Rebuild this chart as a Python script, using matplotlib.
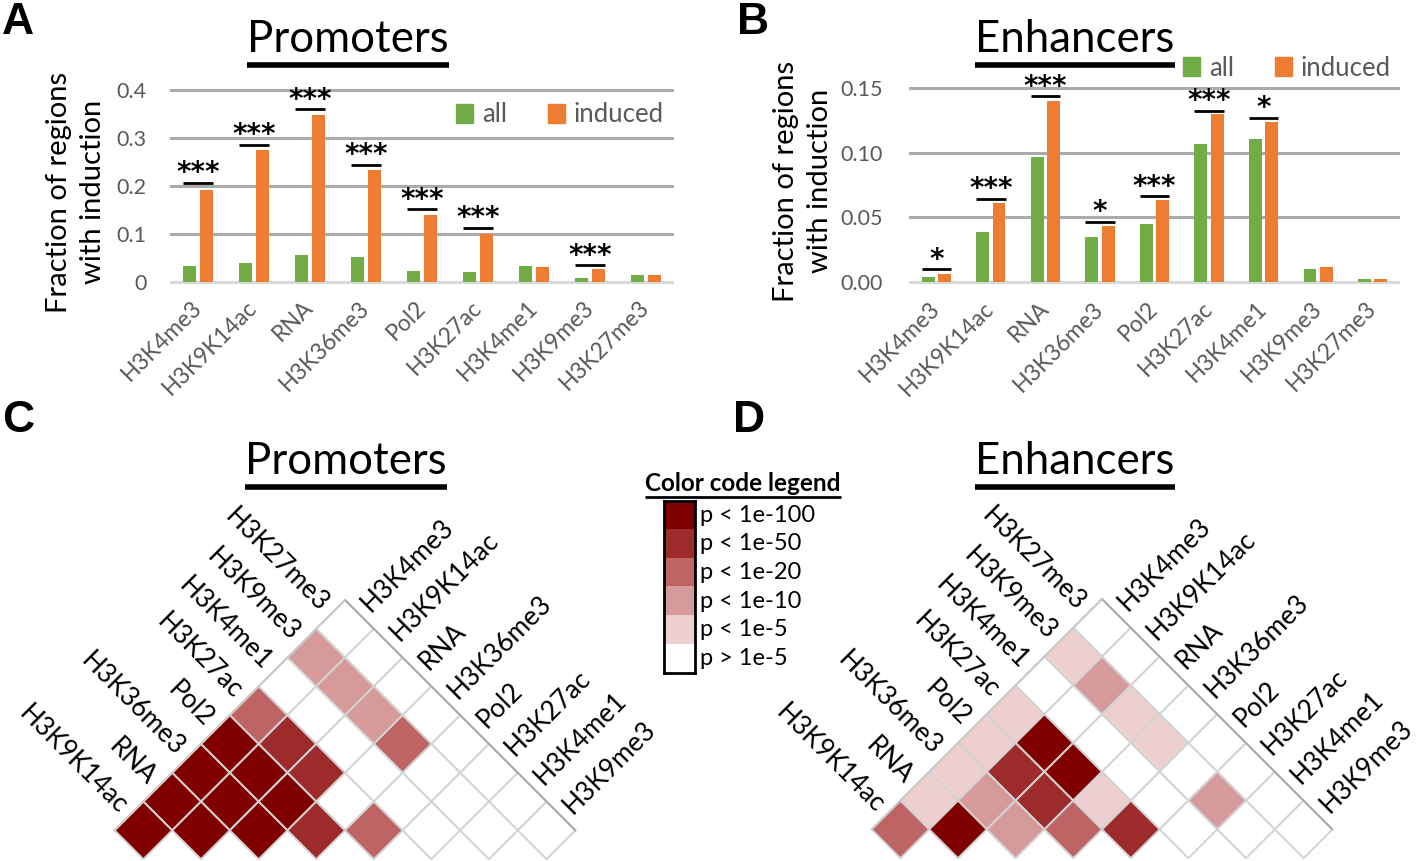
import numpy as np
import matplotlib
matplotlib.use('Agg')
import matplotlib.pyplot as plt
from matplotlib.colors import ListedColormap, BoundaryNorm
from matplotlib.patches import Patch
from matplotlib.lines import Line2D

plt.rcParams['font.family'] = ['Lato', 'DejaVu Sans']

# ---------------- data ----------------
categories = ['H3K4me3', 'H3K9K14ac', 'RNA', 'H3K36me3', 'Pol2', 'H3K27ac',
              'H3K4me1', 'H3K9me3', 'H3K27me3']

prom_all = [0.033, 0.040, 0.057, 0.053, 0.022, 0.021, 0.033, 0.008, 0.014]
prom_induced = [0.191, 0.276, 0.347, 0.233, 0.139, 0.100, 0.031, 0.028, 0.014]
prom_stars = ['***', '***', '***', '***', '***', '***', '', '***', '']
prom_sig = [0.207, 0.286, 0.360, 0.244, 0.152, 0.113, None, 0.035, None]
prom_yticks = [0, 0.1, 0.2, 0.3, 0.4]
prom_yticklabels = ['0', '0.1', '0.2', '0.3', '0.4']

enh_all = [0.0036, 0.039, 0.0966, 0.035, 0.045, 0.107, 0.1106, 0.0104, 0.002]
enh_induced = [0.0065, 0.061, 0.140, 0.043, 0.0637, 0.130, 0.124, 0.0114, 0.0026]
enh_stars = ['*', '***', '***', '*', '***', '***', '*', '', '']
enh_sig = [0.0098, 0.0645, 0.1438, 0.0466, 0.0663, 0.1324, 0.127, None, None]
enh_yticks = [0, 0.05, 0.10, 0.15]
enh_yticklabels = ['0.00', '0.05', '0.10', '0.15']

# heatmap: rows = left labels (top to bottom), columns = right labels
left_labels = ['H3K27me3', 'H3K9me3', 'H3K4me1', 'H3K27ac', 'Pol2',
               'H3K36me3', 'RNA', 'H3K9K14ac']
right_labels = ['H3K4me3', 'H3K9K14ac', 'RNA', 'H3K36me3', 'Pol2',
                'H3K27ac', 'H3K4me1', 'H3K9me3']
# significance level codes: 0 p>1e-5, 1 p<1e-5, 2 p<1e-10, 3 p<1e-20, 4 p<1e-50, 5 p<1e-100
prom_levels = [
    [0, 0, 0, 0, 0, 0, 0, 0],
    [2, 2, 2, 3, 0, 0, 0],
    [0, 0, 0, 0, 0, 0],
    [3, 4, 4, 0, 3],
    [5, 5, 5, 4],
    [5, 5, 5],
    [5, 5],
    [5],
]
enh_levels = [
    [0, 0, 0, 0, 0, 0, 0, 0],
    [1, 2, 1, 1, 0, 2, 0],
    [0, 0, 0, 0, 0, 0],
    [1, 5, 5, 1, 4],
    [1, 4, 4, 3],
    [1, 2, 2],
    [1, 5],
    [3],
]
legend_labels = ['p < 1e-100', 'p < 1e-50', 'p < 1e-20', 'p < 1e-10', 'p < 1e-5', 'p > 1e-5']

# ---------------- style ----------------
GREEN = '#70AD47'
ORANGE = '#ED7D31'
GRAY_TXT = '#595959'
GRID = '#ABABAB'
heat_colors = ['#FFFFFF', '#EDCFCF', '#D69A9A', '#BE6464', '#9E2B2B', '#800000']
cmap = ListedColormap(heat_colors)
norm = BoundaryNorm(np.arange(-0.5, 6.5, 1), cmap.N)

W, H = 1418, 861
fig = plt.figure(figsize=(W / 100, H / 100), dpi=100)


def px_axes(x0, y0, x1, y1):
    return fig.add_axes([x0 / W, 1 - y1 / H, (x1 - x0) / W, (y1 - y0) / H])


def underlined_title(xc, yc, text, size, weight='normal', lw=4, gap=5):
    t = fig.text(xc / W, 1 - yc / H, text, ha='center', va='center',
                 fontsize=size, fontweight=weight, color='black')
    fig.canvas.draw()
    bb = t.get_window_extent()
    y = bb.y0 - gap
    fig.add_artist(Line2D([bb.x0 / W, bb.x1 / W], [y / H, y / H],
                          transform=fig.transFigure, color='black', lw=lw,
                          solid_capstyle='butt'))
    return t


def bar_panel(box, ylim, all_v, ind_v, stars, sig, yticks, yticklabels,
              leg_center, ypad):
    x0, ytop, x1, ybot = box  # pixel positions of top gridline and zero line
    lo, hi = ylim
    ppu = (ybot - ytop) / (yticks[-1] - 0)
    ax = px_axes(x0, ytop - (hi - yticks[-1]) * ppu, x1, ybot + (0 - lo) * ppu)
    ax.set_ylim(lo, hi)
    x = np.arange(len(categories))
    ax.set_xlim(-0.5, len(categories) - 0.5)
    for t in yticks:
        ax.axhline(t, color='#D9D9D9' if t == 0 else GRID, lw=2.2, zorder=0)
    ax.bar(x - 0.15, all_v, 0.235, color=GREEN, zorder=2, label='all')
    ax.bar(x + 0.15, ind_v, 0.235, color=ORANGE, zorder=2, label='induced')
    for i, (s, v) in enumerate(zip(stars, sig)):
        if v is None:
            continue
        ax.plot([i - 0.27, i + 0.27], [v, v], color='black', lw=2, zorder=3,
                solid_capstyle='butt')
        ax.annotate(s, (i, v), xytext=(0, 1), textcoords='offset points',
                    ha='center', va='baseline', fontsize=20, fontweight='bold',
                    family=['DejaVu Sans'])
    for sp in ax.spines.values():
        sp.set_visible(False)
    ax.set_yticks(yticks)
    ax.set_yticklabels(yticklabels, fontsize=15.5, color=GRAY_TXT)
    ax.tick_params(axis='y', length=0, pad=ypad)
    ax.set_xticks(x)
    ax.set_xticklabels(categories, rotation=45, ha='right', va='center',
                       rotation_mode='anchor', fontsize=16.5, color=GRAY_TXT)
    ax.tick_params(axis='x', length=0, pad=14)
    handles = [Patch(color=GREEN), Patch(color=ORANGE)]
    ax.legend(handles, ['all', 'induced'], ncol=2, frameon=False, fontsize=18.5,
              labelcolor=GRAY_TXT, handlelength=0.65, handleheight=0.75,
              handletextpad=0.35, columnspacing=1.6, loc='center',
              bbox_to_anchor=(leg_center[0] / W, 1 - leg_center[1] / H),
              bbox_transform=fig.transFigure, borderaxespad=0, borderpad=0)
    return ax


def heat_panel(apex_x, apex_y, levels, d=28.8):
    n = len(left_labels)
    ax = px_axes(apex_x - 9 * d, apex_y - 0.5 * d, apex_x + 9 * d, apex_y + 9.6 * d)
    ax.set_xlim(-9, 9)
    ax.set_ylim(-9.6, 0.5)
    ax.axis('off')
    C = np.ma.masked_all((n, n))
    for r, row in enumerate(levels):
        for c, v in enumerate(row):
            C[r, c] = v
    ii, jj = np.meshgrid(np.arange(n + 1), np.arange(n + 1), indexing='ij')
    X = jj - ii
    Y = -(ii + jj)
    ax.pcolor(X, Y, C, cmap=cmap, norm=norm, edgecolors='#D3D3D3', linewidth=1.4)
    ax.plot([0, n], [0, -n], color='#A8A8A8', lw=1.4, zorder=5, clip_on=False)
    ax.plot([0, -n], [0, -n], color='#C8C8C8', lw=1.4, zorder=5, clip_on=False)
    off = 0.22
    for r, lab in enumerate(left_labels):
        ax.text(-r - 0.5 - off, -r - 0.5 + off, lab, rotation=-45, ha='right',
                va='center', rotation_mode='anchor', fontsize=19, clip_on=False)
    for c, lab in enumerate(right_labels):
        ax.text(c + 0.5 + off, -c - 0.5 + off, lab, rotation=45, ha='left',
                va='center', rotation_mode='anchor', fontsize=19, clip_on=False)
    return ax


# ---------------- panels A and B ----------------
bar_panel((170, 90, 674, 282), (-0.006, 0.41), prom_all, prom_induced, prom_stars,
          prom_sig, prom_yticks, prom_yticklabels, (560, 115), 17)
bar_panel((909, 88, 1400, 282), (-0.003, 0.156), enh_all, enh_induced, enh_stars,
          enh_sig, enh_yticks, enh_yticklabels, (1287, 68), 19)

fig.text(76 / W, 1 - 192 / H, 'Fraction of regions\nwith induction', rotation=90,
         ha='center', va='center', fontsize=21, linespacing=1.35)
fig.text(803 / W, 1 - 181 / H, 'Fraction of regions\nwith induction', rotation=90,
         ha='center', va='center', fontsize=21, linespacing=1.35)

underlined_title(348, 39, 'Promoters', 31.5)
underlined_title(1075, 39, 'Enhancers', 31.5)
underlined_title(346, 461, 'Promoters', 31.5)
underlined_title(1075, 461, 'Enhancers', 31.5)

for lab, (px, py) in zip('ABCD', [(2, 22), (737, 22), (2, 420), (733, 420)]):
    fig.text(px / W, 1 - py / H, lab, ha='left', va='center', fontsize=32,
             fontweight='bold', family=['Liberation Sans', 'DejaVu Sans'])

# ---------------- panels C and D ----------------
heat_panel(345, 600, prom_levels)
heat_panel(1102, 599, enh_levels)

# ---------------- colour code legend ----------------
lax = px_axes(664, 501, 695, 673)
lax.imshow(np.arange(5, -1, -1).reshape(-1, 1), cmap=cmap, norm=norm,
           aspect='auto', extent=(0, 1, 6, 0))
lax.set_xlim(0, 1)
lax.set_ylim(6, 0)
lax.set_xticks([])
lax.set_yticks([])
for sp in lax.spines.values():
    sp.set_linewidth(2)
    sp.set_color('black')
for i, lab in enumerate(legend_labels):
    lax.text(1.15, i + 0.5, lab, ha='left', va='center', fontsize=17,
             clip_on=False)
underlined_title(743, 483, 'Color code legend', 17.5, weight='bold', lw=2, gap=2)

fig.savefig('out.png', dpi=100)
